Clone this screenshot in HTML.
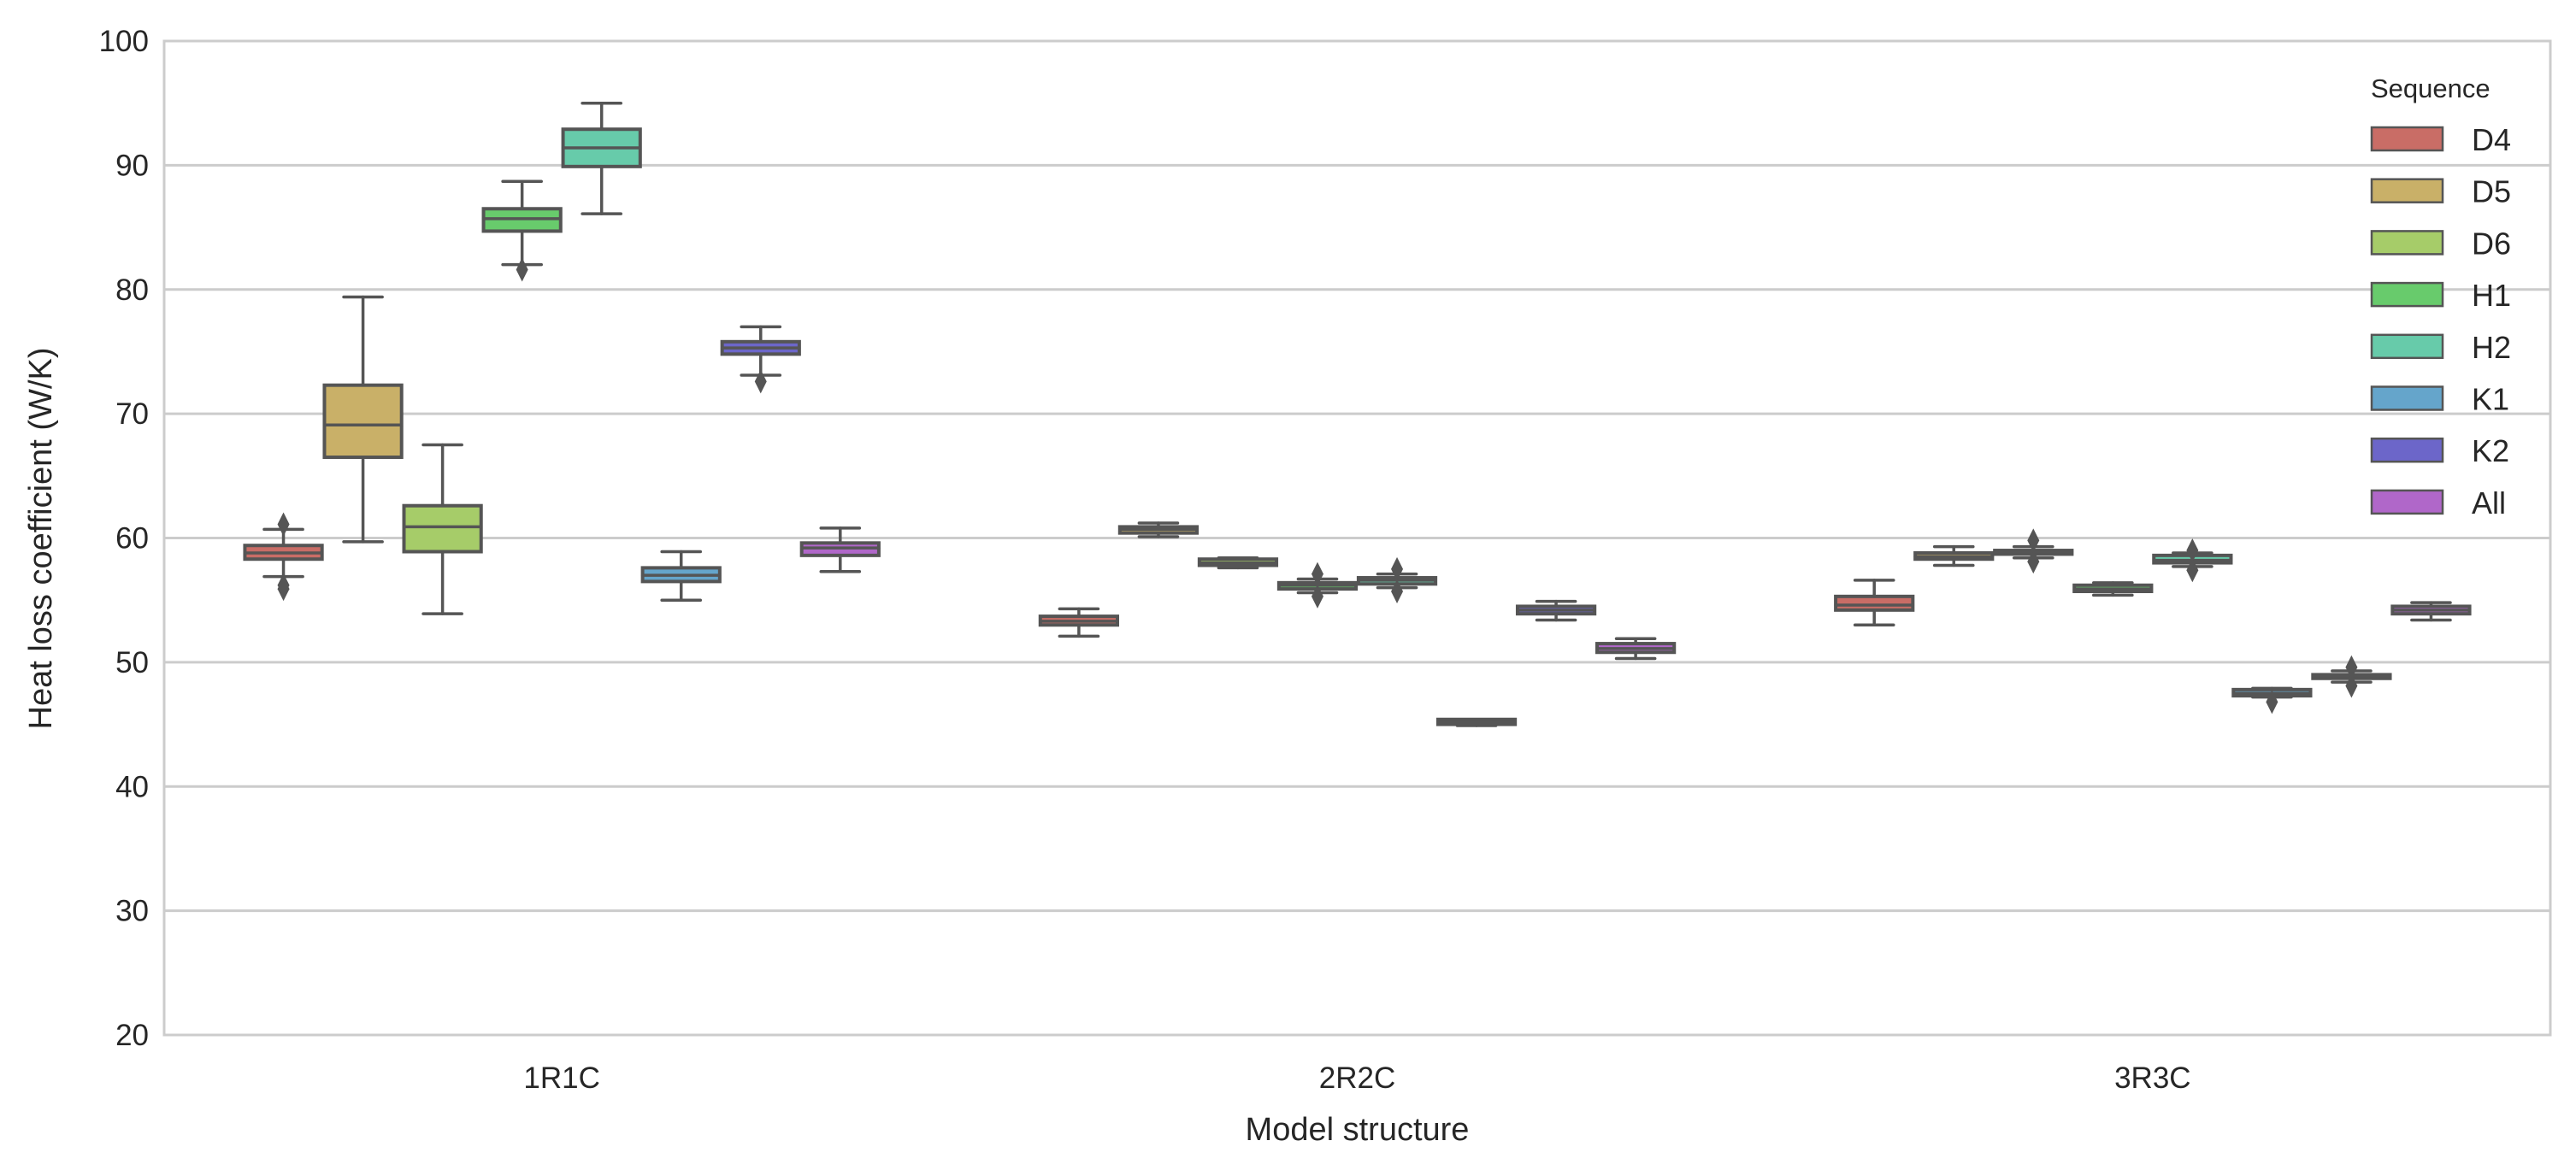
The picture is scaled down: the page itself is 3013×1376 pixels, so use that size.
<!DOCTYPE html>
<html><head><meta charset="utf-8"><style>
html,body{margin:0;padding:0;background:#fff;}
svg{display:block;font-family:"Liberation Sans",Arial,sans-serif;}
</style></head><body>
<svg id="chart" width="3013" height="1376" viewBox="0 0 3013 1376" xmlns="http://www.w3.org/2000/svg"></svg>
<script>
const categories = ["1R1C","2R2C","3R3C"];
const hues = ["D4","D5","D6","H1","H2","K1","K2","All"];
const colors = ["#c96d66","#c9b068","#a6cc69","#68cb6c","#67cbaa","#65a5cb","#6c66c9","#b067c9"];
const yTicks = [20,30,40,50,60,70,80,90,100];
// stats per category: [whislo, q1, med, q3, whishi]
const stats1R1C = [[56.9,58.3,58.8,59.4,60.7],[59.7,66.5,69.1,72.3,79.4],[53.9,58.9,60.9,62.6,67.5],[82.0,84.7,85.7,86.5,88.7],[86.1,89.9,91.4,92.9,95.0],[55.0,56.5,57.0,57.6,58.9],[73.1,74.8,75.3,75.8,77.0],[57.3,58.6,59.2,59.6,60.8]];
const stats2R2C = [[52.1,53.0,53.3,53.7,54.3],[60.1,60.4,60.7,60.9,61.2],[57.6,57.8,58.0,58.3,58.4],[55.6,55.9,56.2,56.4,56.7],[56.0,56.3,56.6,56.8,57.1],[44.9,45.0,45.2,45.4,45.4],[53.4,53.9,54.2,54.5,54.9],[50.3,50.8,51.1,51.5,51.9]];
const stats3R3C = [[53.0,54.2,54.6,55.3,56.6],[57.8,58.3,58.5,58.8,59.3],[58.4,58.7,58.9,59.0,59.3],[55.4,55.7,55.9,56.2,56.4],[57.7,58.0,58.2,58.6,58.8],[47.2,47.3,47.5,47.8,47.9],[48.4,48.7,48.9,49.0,49.3],[53.4,53.9,54.2,54.5,54.8]];
const outliers1R1C = [[61.1,56.2,55.9],[],[],[81.6],[],[],[72.6],[]];
const outliers2R2C = [[],[],[],[57.1,55.3],[57.5,55.7],[],[],[]];
const outliers3R3C = [[],[],[59.8,58.1],[],[59.0,57.4],[46.8],[49.6,48.1],[]];
const allStats = [stats1R1C,stats2R2C,stats3R3C];
const allOutliers = [outliers1R1C,outliers2R2C,outliers3R3C];

const NS="http://www.w3.org/2000/svg";
const svg=document.getElementById('chart');
const L=192,R=2983,T=48,B=1211;
const yMin=20,yMax=100;
function y(v){return B-(v-yMin)/(yMax-yMin)*(B-T);}
const catW=(R-L)/categories.length;
function xc(i){return L+catW*(i+0.5);}
const hueW=catW*0.8/hues.length;
function xh(i,j){return xc(i)-catW*0.4+hueW*(j+0.5);}
const boxW=hueW*0.97;
function mk(tag,attrs,parent){const e=document.createElementNS(NS,tag);for(const k in attrs)e.setAttribute(k,attrs[k]);(parent||svg).appendChild(e);return e;}

for(const t of yTicks){
  const g=mk('line',{x1:L,x2:R,y1:y(t),y2:y(t),stroke:'#cccccc','stroke-width':3});
  
  
  const tx=mk('text',{x:L-18,y:y(t)+12,'text-anchor':'end','font-size':35,fill:'#262626'});
  tx.textContent=t;
  
  
}
const frame=mk('rect',{x:L,y:T,width:R-L,height:B-T,fill:'none',stroke:'#cccccc','stroke-width':3});



categories.forEach((c,i)=>{
  const t=mk('text',{x:xc(i),y:1273,'text-anchor':'middle','font-size':35,fill:'#262626'});
  t.textContent=c;
  
  
  hues.forEach((h,j)=>{
    const s=allStats[i][j];const cx=xh(i,j);
    const g=mk('g',{});
    
    
    const st={stroke:'#555555','stroke-width':3.5,'stroke-linecap':'round'};
    mk('line',Object.assign({x1:cx,x2:cx,y1:y(s[0]),y2:y(s[1])},st),g);
    mk('line',Object.assign({x1:cx,x2:cx,y1:y(s[3]),y2:y(s[4])},st),g);
    mk('line',Object.assign({x1:cx-boxW/4,x2:cx+boxW/4,y1:y(s[0]),y2:y(s[0])},st),g);
    mk('line',Object.assign({x1:cx-boxW/4,x2:cx+boxW/4,y1:y(s[4]),y2:y(s[4])},st),g);
    mk('rect',{x:cx-boxW/2,y:y(s[3]),width:boxW,height:y(s[1])-y(s[3]),fill:colors[j],stroke:'#555555','stroke-width':4},g);
    mk('line',Object.assign({x1:cx-boxW/2,x2:cx+boxW/2,y1:y(s[2]),y2:y(s[2])},st),g);
    for(const o of allOutliers[i][j]){
      const oy=y(o);
      const d=mk('path',{d:`M${cx},${oy-14}L${cx+7},${oy}L${cx},${oy+14}L${cx-7},${oy}Z`,fill:'#555555'},g);
      
      
    }
  });
});

const xt=mk('text',{x:(L+R)/2,y:1334,'text-anchor':'middle','font-size':38,fill:'#262626'});
xt.textContent='Model structure';


const yt=mk('text',{x:0,y:0,'text-anchor':'middle','font-size':38,fill:'#262626',transform:'translate(60,630) rotate(-90)'});
yt.textContent='Heat loss coefficient (W/K)';



const lg=mk('g',{});


const lt=mk('text',{x:2773,y:114,'font-size':31,fill:'#262626'},lg);
lt.textContent='Sequence';


hues.forEach((h,j)=>{
  const py=149+j*60.7;
  const e=mk('g',{},lg);
  
  
  mk('rect',{x:2774,y:py,width:83,height:27,fill:colors[j],stroke:'#555555','stroke-width':2.5},e);
  const t=mk('text',{x:2891,y:py+27,'font-size':36,fill:'#262626'},e);
  t.textContent=h;
});
</script>
</body></html>
